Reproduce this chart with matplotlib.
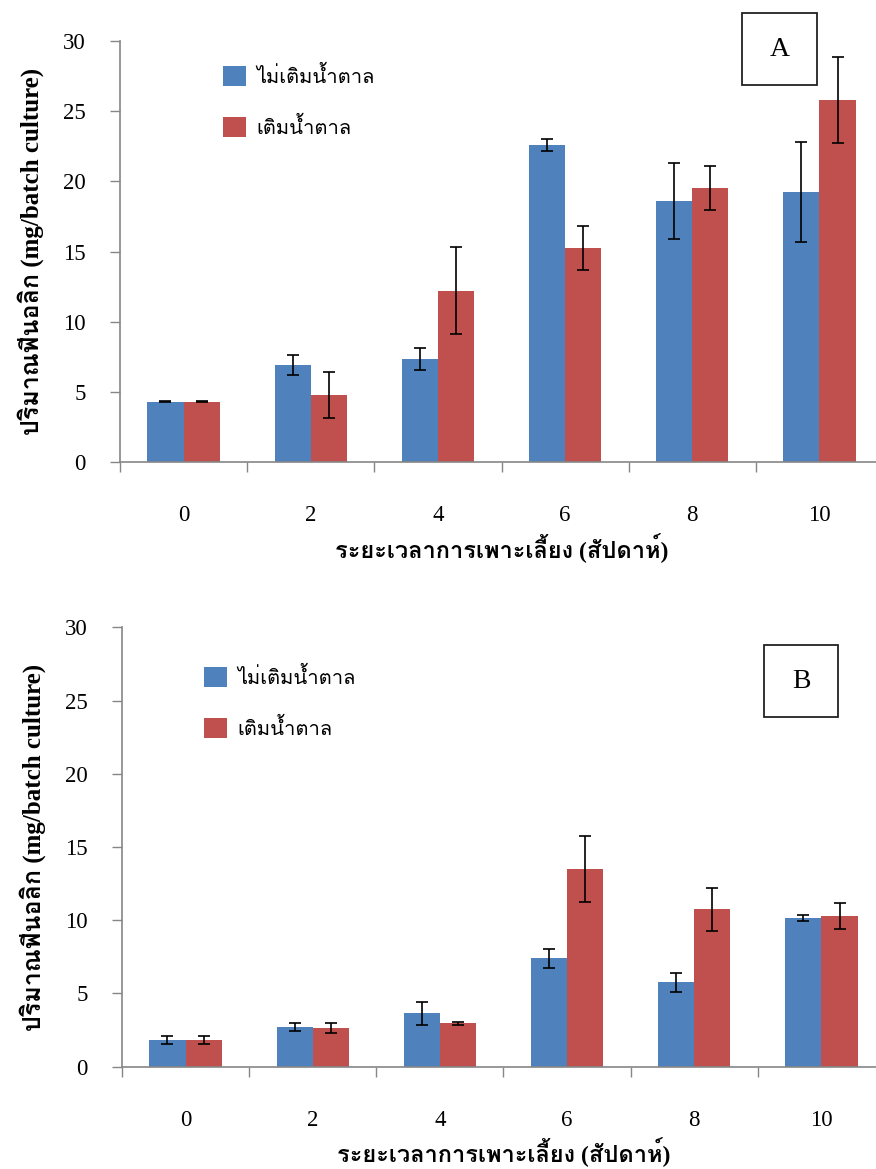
import matplotlib
matplotlib.use("Agg")
import matplotlib.pyplot as plt
import numpy as np
from matplotlib import font_manager as fm
from matplotlib.patches import Rectangle

# ---------------- data ----------------
weeks = ["0", "2", "4", "6", "8", "10"]
series_names = ["ไม่เติมน้ำตาล", "เติมน้ำตาล"]

a_no_sugar = [4.30, 6.91, 7.34, 22.59, 18.58, 19.24]
a_no_sugar_err = [0.03, 0.69, 0.76, 0.45, 2.72, 3.57]
a_sugar = [4.30, 4.75, 12.21, 15.25, 19.51, 25.80]
a_sugar_err = [0.03, 1.64, 3.10, 1.59, 1.58, 3.08]

b_no_sugar = [1.84, 2.73, 3.64, 7.40, 5.76, 10.13]
b_no_sugar_err = [0.27, 0.27, 0.79, 0.65, 0.65, 0.20]
b_sugar = [1.84, 2.64, 2.98, 13.48, 10.75, 10.29]
b_sugar_err = [0.27, 0.33, 0.10, 2.24, 1.46, 0.90]

ylabel_text = "ปริมาณฟีนอลิก (mg/batch culture)"
xlabel_text = "ระยะเวลาการเพาะเลี้ยง (สัปดาห์)"

# ---------------- fonts ----------------
def find_thai_fonts():
    names = []
    try:
        from fontTools.ttLib import TTFont
    except Exception:
        return names
    seen = set()
    for f in fm.fontManager.ttflist:
        if f.name in seen:
            continue
        try:
            tt = TTFont(f.fname, fontNumber=0, lazy=True)
            cmap = tt.getBestCmap()
            if cmap and 0x0E1B in cmap and 0x0E49 in cmap:
                names.append(f.name)
                seen.add(f.name)
            tt.close()
        except Exception:
            pass
    return names

thai = find_thai_fonts()
serif = "Liberation Serif"
fam = [serif] + thai + ["DejaVu Sans"]
plt.rcParams["font.family"] = fam

W, H = 876, 1169
fig = plt.figure(figsize=(W / 100, H / 100), dpi=100)

blue = "#4F81BD"
red = "#C0504D"
axis_gray = "#868686"


def px_axes(left, right, top, bottom):
    return [left / W, 1 - bottom / H, (right - left) / W, (bottom - top) / H]


def draw_panel(rect, s1, e1, s2, e2, legend_xy, letter, box):
    ax = fig.add_axes(rect)
    x = np.arange(len(weeks))
    bw = 0.285
    ax.bar(x - bw / 2, s1, bw, color=blue, edgecolor="none", label=series_names[0], zorder=2)
    ax.bar(x + bw / 2, s2, bw, color=red, edgecolor="none", label=series_names[1], zorder=2)
    ekw = dict(fmt="none", ecolor="black", elinewidth=1.2, capsize=4.5, capthick=1.2, zorder=3)
    ax.errorbar(x - bw / 2, s1, yerr=e1, **ekw)
    ax.errorbar(x + bw / 2, s2, yerr=e2, **ekw)

    ax.set_xlim(-0.5, len(weeks) - 0.5)
    ax.set_ylim(0, 30)
    ax.set_yticks(np.arange(0, 31, 5))
    ax.set_xticks(x)
    ax.set_xticklabels(weeks)
    ax.set_xticks(np.arange(-0.5, len(weeks), 1.0), minor=True)
    ax.tick_params(axis="x", which="major", length=0, pad=31, labelsize=16.5)
    ax.tick_params(axis="x", which="minor", length=7.5, width=1.0, color=axis_gray, direction="out")
    ax.tick_params(axis="y", which="major", length=7.5, width=1.0, color=axis_gray, direction="out",
                   labelsize=16.5, pad=17)
    for sp in ["top", "right"]:
        ax.spines[sp].set_visible(False)
    for sp in ["left", "bottom"]:
        ax.spines[sp].set_color(axis_gray)
        ax.spines[sp].set_linewidth(1.2)
    ax.set_ylabel(ylabel_text, fontsize=18, fontweight="bold", labelpad=14)
    ax.set_xlabel(xlabel_text, fontsize=17, fontweight="bold", labelpad=5)

    ax.legend(loc="upper left", bbox_to_anchor=legend_xy, frameon=False,
              fontsize=14.5, handlelength=1.14, handleheight=1.14, handletextpad=0.5,
              labelspacing=1.45, borderaxespad=0, borderpad=0)

    bx0, by0, bx1, by1 = box
    fig.patches.append(Rectangle((bx0 / W, 1 - by1 / H), (bx1 - bx0) / W, (by1 - by0) / H,
                                 transform=fig.transFigure, facecolor="white",
                                 edgecolor="#222222", linewidth=1.3, zorder=5))
    fig.text((bx0 + bx1) / 2 / W, 1 - (by0 + by1) / 2 / H, letter, ha="center", va="center",
             fontsize=20, family=serif, zorder=6)
    return ax


# top panel A
draw_panel(px_axes(120, 883, 41, 462), a_no_sugar, a_no_sugar_err, a_sugar, a_sugar_err,
           (0.135, 0.94), "A", (742, 13, 817, 85))
# bottom panel B
draw_panel(px_axes(122, 885, 627.3, 1066.7), b_no_sugar, b_no_sugar_err, b_sugar, b_sugar_err,
           (0.108, 0.91), "B", (764, 645, 838, 717))

fig.savefig("out.png", dpi=100)
